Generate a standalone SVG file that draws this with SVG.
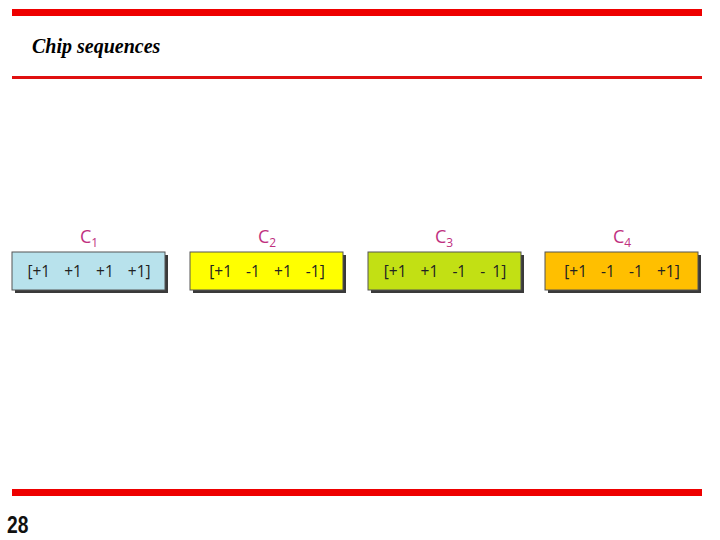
<svg xmlns="http://www.w3.org/2000/svg" width="720" height="540" viewBox="0 0 720 540">
<style>
.bar{fill:#ee0000}
.box{stroke:#555;stroke-width:1}
.sh{fill:#3a3a3a}
.lab{font-family:"Open Sans","DejaVu Sans",sans-serif;font-size:18px;fill:#c0307f}
.sub{font-size:12px}
.seq{font-family:"Open Sans","DejaVu Sans",sans-serif;font-size:15.5px;fill:#222;text-anchor:middle;word-spacing:3px}
</style>
<rect width="720" height="540" fill="#fff"/>
<rect class="bar" x="12" y="9" width="690" height="7"/>
<rect x="12" y="76" width="690" height="3" fill="#e01010"/>
<rect class="bar" x="12" y="489" width="690" height="7"/>
<text x="32" y="53" font-family="Liberation Serif,serif" font-size="20" font-weight="bold" font-style="italic">Chip sequences</text>
<text transform="translate(7,533) scale(0.8,1)" font-family="Liberation Sans,sans-serif" font-size="24" font-weight="bold" fill="#111">28</text>
<g id="c1">
<rect class="sh" x="15" y="255" width="153" height="38"/>
<rect class="box" x="12" y="252" width="153" height="38" fill="#b8e2ec"/>
<text class="lab" x="80" y="243">C<tspan class="sub" dy="4">1</tspan></text>
<text class="seq" x="89" y="277" xml:space="preserve">[+1  +1  +1  +1]</text>
</g>
<g id="c2">
<rect class="sh" x="193" y="255" width="153" height="38"/>
<rect class="box" x="190" y="252" width="153" height="38" fill="#ffff00"/>
<text class="lab" x="258" y="243">C<tspan class="sub" dy="4">2</tspan></text>
<text class="seq" x="267" y="277" xml:space="preserve">[+1  -1  +1  -1]</text>
</g>
<g id="c3">
<rect class="sh" x="371" y="255" width="153" height="38"/>
<rect class="box" x="368" y="252" width="153" height="38" fill="#c2e014"/>
<text class="lab" x="435" y="243">C<tspan class="sub" dy="4">3</tspan></text>
<text class="seq" x="445" y="277" xml:space="preserve">[+1  +1  -1  - 1]</text>
</g>
<g id="c4">
<rect class="sh" x="548" y="255" width="153" height="38"/>
<rect class="box" x="545" y="252" width="153" height="38" fill="#ffbf00"/>
<text class="lab" x="613" y="243">C<tspan class="sub" dy="4">4</tspan></text>
<text class="seq" x="622" y="277" xml:space="preserve">[+1  -1  -1  +1]</text>
</g>
<g id="connectors"/>
</svg>
